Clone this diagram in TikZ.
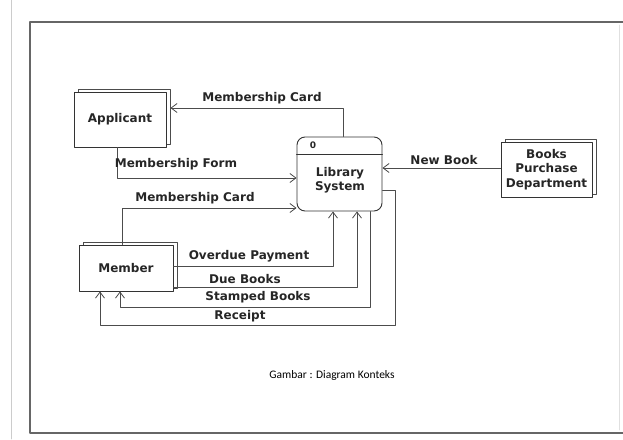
\documentclass[tikz,border=0pt]{standalone}
\usepackage{fontspec}
\usepackage{tikz}
\usetikzlibrary{arrows.meta,shadows}
\newfontfamily\dfdfont{DejaVu Sans}
\newfontfamily\capfont{Carlito}

\begin{document}
\begin{tikzpicture}[x=1pt, y=-1pt, line cap=round, line join=round,
    entity/.style={draw=black!80, line width=0.9pt, fill=white, minimum width=92pt,
                   minimum height=55pt, align=center,
                   copy shadow={shadow xshift=4pt, shadow yshift=3pt, draw=black!70}},
    process/.style={draw=black!80, line width=0.9pt, rounded corners=8pt, fill=white,
                    minimum width=85pt, minimum height=74pt},
    flow/.style={draw=black!70, line width=0.8pt, -{Straight Barb[length=6pt,width=9pt]}},
    lbl/.style={font=\dfdfont\bfseries\fontsize{12}{14.5}\selectfont, text=black!85, inner sep=1pt}]

    \useasboundingbox (0,0) rectangle (623,439);

    % page frame
    \draw[black!20, line width=0.8pt] (11,0) -- (11,439);
    \draw[black!60, line width=2.8pt] (623,22) -- (30,22) -- (30,433) -- (623,433);
    \draw[black!12, line width=0.6pt] (619,25) -- (619,430);

    % external entities
    \node[entity, lbl] (applicant) at (120,119.5) {Applicant};
    \node[entity, lbl, minimum width=94pt, minimum height=46pt] (member) at (126,268) {Member};
    \node[entity, lbl, minimum width=91pt] (books) at (546.5,169.5) {Books\\Purchase\\Department};

    % process 0
    \node[process] (library) at (339.5,174) {};
    \node[lbl, align=center] (libname) at (340,180) {Library\\System};
    \node[lbl, font=\dfdfont\bfseries\fontsize{9}{10}\selectfont] (libid) at (313,145) {0};
    \draw[black!80, line width=0.9pt] (library.west |- 0,154) -- (library.east |- 0,154);

    % data flows
    \draw[flow] ([xshift=3.5pt]library.north) |- ([xshift=4pt,yshift=11.5pt]applicant.east);
    \node[lbl] (l1) at (262,98) {Membership Card};

    \draw[flow] ([xshift=-3pt]applicant.south) |- ([yshift=-4pt]library.west);
    \node[lbl] (l2) at (176,164) {Membership Form};

    \draw[flow] ([xshift=-4pt]member.north) |- ([yshift=-34pt]library.west);
    \node[lbl] (l3) at (195,198) {Membership Card};

    \draw[flow] ([yshift=2pt]member.east) -| ([xshift=-6.5pt]library.south);
    \node[lbl] (l4) at (249,256) {Overdue Payment};

    \draw[flow] ([yshift=-19pt]member.east) -| ([xshift=17.5pt]library.south);
    \node[lbl] (l5) at (245,279) {Due Books};

    \draw[flow] ([xshift=30.5pt]library.south) -- ++(0,96) -| ([xshift=-6pt]member.south);
    \node[lbl] (l6) at (258,297) {Stamped Books};

    \draw[flow] ([yshift=-16pt]library.east) -- ++(13,0) -- ++(0,135) -| ([xshift=-26pt]member.south);
    \node[lbl] (l7) at (240,316) {Receipt};

    \draw[flow] ([yshift=1.5pt]books.west) -- ([yshift=1.5pt]books.west -| library.east);
    \node[lbl] (l8) at (444,160) {New Book};

    \node[font=\capfont\fontsize{11.5}{13}\selectfont, text=black] (caption) at (332,375) {Gambar : Diagram Konteks};
\end{tikzpicture}
\end{document}
